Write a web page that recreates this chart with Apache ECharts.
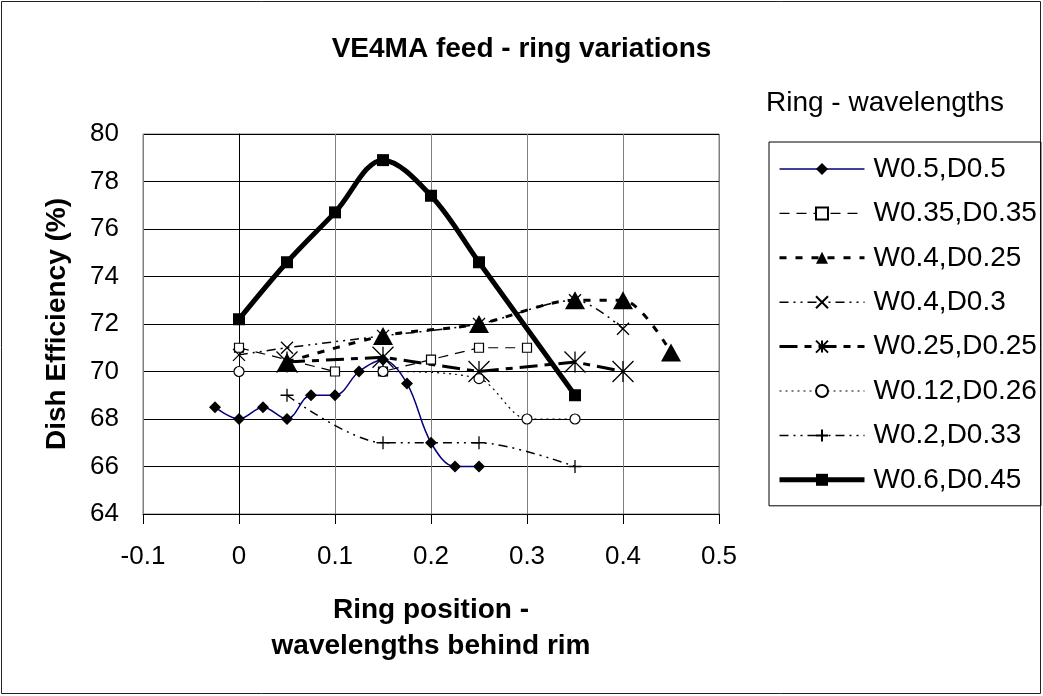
<!DOCTYPE html>
<html>
<head>
<meta charset="utf-8">
<title>VE4MA feed - ring variations</title>
<script src="https://cdn.jsdelivr.net/npm/echarts@6/dist/echarts.min.js"></script>
<style>
  html, body { margin: 0; padding: 0; background: #fff; }
  #chart { width: 1043px; height: 696px; }
</style>
</head>
<body>
<div id="chart"></div>
<script>
// values
var seriesNames = ['W0.5,D0.5', 'W0.35,D0.35', 'W0.4,D0.25', 'W0.4,D0.3',
                   'W0.25,D0.25', 'W0.12,D0.26', 'W0.2,D0.33', 'W0.6,D0.45'];

var xW05D05 = [-0.025, 0, 0.025, 0.05, 0.075, 0.1, 0.125, 0.15, 0.175, 0.2, 0.225, 0.25];
var yW05D05 = [68.5, 68.0, 68.5, 68.0, 69.0, 69.0, 70.0, 70.5, 69.5, 67.0, 66.0, 66.0];

var xW035D035 = [0, 0.1, 0.15, 0.2, 0.25, 0.3];
var yW035D035 = [71.0, 70.0, 70.0, 70.5, 71.0, 71.0];

var xW04D025 = [0.05, 0.15, 0.25, 0.35, 0.4, 0.45];
var yW04D025 = [70.4, 71.5, 72.0, 73.0, 73.0, 70.8];

var xW04D03 = [0, 0.05, 0.15, 0.25, 0.35, 0.4];
var yW04D03 = [70.7, 71.0, 71.5, 72.0, 73.0, 71.8];

var xW025D025 = [0.05, 0.15, 0.25, 0.35, 0.4];
var yW025D025 = [70.4, 70.6, 70.0, 70.4, 70.0];

var xW012D026 = [0, 0.15, 0.25, 0.3, 0.35];
var yW012D026 = [70.0, 70.0, 69.7, 68.0, 68.0];

var xW02D033 = [0.05, 0.15, 0.25, 0.35];
var yW02D033 = [69.0, 67.0, 67.0, 66.0];

var xW06D045 = [0, 0.05, 0.1, 0.15, 0.2, 0.25, 0.35];
var yW06D045 = [72.2, 74.6, 76.7, 78.9, 77.4, 74.6, 69.0];

var yTicks = { min: 64, max: 80, step: 2 };
var xTicks = { min: -0.1, max: 0.5, step: 0.1 };

function pairs(xs, ys) {
  return xs.map(function (x, i) { return [x, ys[i]]; });
}

var FONT = 'Liberation Sans, Arial, sans-serif';
var X_MARK = 'path://M0,0L10,10M10,0L0,10';
var STAR_MARK = 'path://M0,0L10,10M10,0L0,10M5,0L5,10';
var PLUS_MARK = 'path://M5,0L5,10M0,5L10,5';

var dom = document.getElementById('chart');
var myChart = echarts.init(dom);

var option = {
  animation: false,
  backgroundColor: '#fff',
  title: [{
    text: 'VE4MA feed - ring variations',
    left: 'center',
    top: 35,
    padding: 0,
    textStyle: { fontFamily: FONT, fontSize: 28, fontWeight: 'bold', color: '#000' }
  }, {
    text: 'Ring - wavelengths',
    left: 766,
    top: 89,
    padding: 0,
    textStyle: { fontFamily: FONT, fontSize: 28, fontWeight: 'normal', color: '#000' }
  }],
  graphic: [{
    type: 'rect',
    shape: { x: 1.5, y: 1.5, width: 1039, height: 692 },
    style: { fill: 'none', stroke: '#222', lineWidth: 1 },
    silent: true
  }],
  legend: {
    orient: 'vertical',
    left: 769,
    top: 142,
    itemWidth: 85,
    itemHeight: 15,
    itemGap: 14.4,
    padding: [12, 4, 11, 8],
    borderColor: '#000',
    borderWidth: 1,
    lineStyle: { width: 'inherit' },
    textStyle: { fontFamily: FONT, fontSize: 28, color: '#000', lineHeight: 30, padding: [0, 0, 0, 4] },
    data: seriesNames
  },
  grid: {
    left: 143, right: 324, top: 134, bottom: 182,
    show: true, borderColor: '#808080', borderWidth: 1, backgroundColor: '#fff'
  },
  xAxis: {
    type: 'value',
    min: xTicks.min, max: xTicks.max, interval: xTicks.step,
    name: 'Ring position -\nwavelengths behind rim',
    nameLocation: 'middle',
    nameGap: 78,
    nameTextStyle: { fontFamily: FONT, fontSize: 28, fontWeight: 'bold', color: '#000', lineHeight: 36 },
    axisLine: { onZero: false, lineStyle: { color: '#000', width: 1 } },
    axisTick: { length: 10, lineStyle: { color: '#000' } },
    axisLabel: {
      margin: 30, fontFamily: FONT, fontSize: 26, color: '#000',
      formatter: function (v) { return String(+v.toFixed(1)); }
    },
    splitLine: { show: true, lineStyle: { color: '#808080', width: 1 } }
  },
  yAxis: {
    type: 'value',
    min: yTicks.min, max: yTicks.max, interval: yTicks.step,
    name: 'Dish Efficiency (%)',
    nameLocation: 'middle',
    nameGap: 72,
    nameTextStyle: { fontFamily: FONT, fontSize: 28, fontWeight: 'bold', color: '#000' },
    axisLine: { show: true, lineStyle: { color: '#000', width: 1 } },
    axisTick: { show: true, length: 9, lineStyle: { color: '#000' } },
    axisLabel: { margin: 24, fontFamily: FONT, fontSize: 26, color: '#000' },
    splitLine: { show: true, lineStyle: { color: '#000', width: 1 } }
  },
  series: [{
    name: seriesNames[0], type: 'line', smooth: 0.35,
    data: pairs(xW05D05, yW05D05),
    symbol: 'diamond', symbolSize: 12,
    lineStyle: { color: '#000080', width: 1.5, type: 'solid' },
    itemStyle: { color: '#000', borderWidth: 0 }
  }, {
    name: seriesNames[1], type: 'line',
    data: pairs(xW035D035, yW035D035),
    symbol: 'rect', symbolSize: 9,
    lineStyle: { color: '#000', width: 1.2, type: [10, 7] },
    itemStyle: { color: '#fff', borderColor: '#000', borderWidth: 1.2 }
  }, {
    name: seriesNames[2], type: 'line', smooth: 0.3,
    data: pairs(xW04D025, yW04D025),
    symbol: 'triangle', symbolSize: [20, 18],
    lineStyle: { color: '#000', width: 3, type: [7, 9] },
    itemStyle: { color: '#000', borderWidth: 0 }
  }, {
    name: seriesNames[3], type: 'line', smooth: 0.3,
    data: pairs(xW04D03, yW04D03),
    symbol: X_MARK, symbolSize: 12,
    lineStyle: { color: '#000', width: 1.5, type: [9, 5, 2, 5, 2, 5] },
    itemStyle: { color: '#000', borderColor: '#000', borderWidth: 1.3 }
  }, {
    name: seriesNames[4], type: 'line',
    data: pairs(xW025D025, yW025D025),
    symbol: STAR_MARK, symbolSize: 21,
    lineStyle: { color: '#000', width: 3, type: [18, 7, 7, 7] },
    itemStyle: { color: '#000', borderColor: '#000', borderWidth: 1.3 }
  }, {
    name: seriesNames[5], type: 'line', smooth: 0.3,
    data: pairs(xW012D026, yW012D026),
    symbol: 'circle', symbolSize: 10,
    lineStyle: { color: '#000', width: 1.2, type: [2, 4] },
    itemStyle: { color: '#fff', borderColor: '#000', borderWidth: 1.2 }
  }, {
    name: seriesNames[6], type: 'line', smooth: 0.3,
    data: pairs(xW02D033, yW02D033),
    symbol: PLUS_MARK, symbolSize: 13,
    lineStyle: { color: '#000', width: 1.5, type: [9, 5, 2, 5, 2, 5] },
    itemStyle: { color: '#000', borderColor: '#000', borderWidth: 1.3 }
  }, {
    name: seriesNames[7], type: 'line', smooth: 0.35,
    data: pairs(xW06D045, yW06D045),
    symbol: 'rect', symbolSize: 12,
    lineStyle: { color: '#000', width: 5, type: 'solid' },
    itemStyle: { color: '#000', borderWidth: 0 }
  }]
};

myChart.setOption(option);
</script>
</body>
</html>
